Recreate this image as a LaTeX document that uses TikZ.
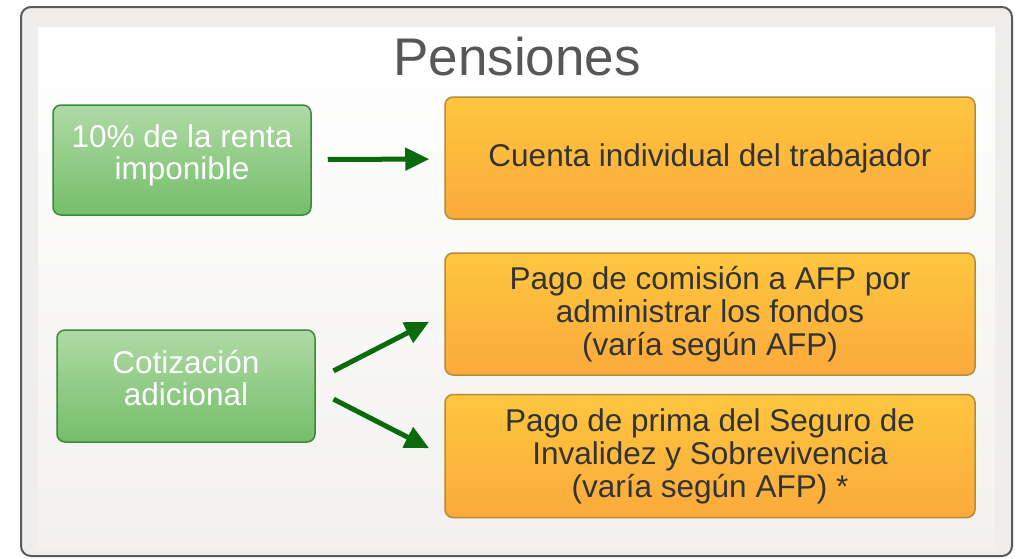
\documentclass[tikz,border=0pt]{standalone}
\usepackage{fontspec}
\setmainfont{Liberation Sans}
\usepackage{tikz}
\usetikzlibrary{arrows.meta}
\definecolor{framegray}{HTML}{5A5A5A}
\definecolor{outerfill}{HTML}{EFEEEC}
\definecolor{panelbot}{HTML}{F2F1EF}
\definecolor{titlegray}{HTML}{575757}
\definecolor{greenline}{HTML}{3A8A36}
\definecolor{greentop}{HTML}{B0DAA6}
\definecolor{greenbot}{HTML}{74BE69}
\definecolor{orangeline}{HTML}{B88A34}
\definecolor{orangetop}{HTML}{FEC63F}
\definecolor{orangebot}{HTML}{FBAA3B}
\definecolor{textgray}{HTML}{333333}
\definecolor{arrowgreen}{HTML}{0B6A0B}

\begin{document}
\begin{tikzpicture}[x=1pt,y=-1pt,
	greenbox/.style={draw=greenline,line width=1.5pt,rounded corners=8pt,top color=greentop,bottom color=greenbot,text=white,align=center,font=\fontsize{31.5}{32}\selectfont,text depth=16pt,minimum width=258pt,inner sep=0pt},
	orangebox/.style={draw=orangeline,line width=1.5pt,rounded corners=8pt,top color=orangetop,bottom color=orangebot,text=textgray,align=center,font=\fontsize{31.5}{33}\selectfont,minimum width=530pt,minimum height=122pt,inner sep=0pt},
	flow/.style={draw=arrowgreen,line width=5pt,-{Triangle[length=24pt,width=22pt]}}]
	\useasboundingbox (0,0) rectangle (1017,558);
	\draw[line width=2pt,draw=framegray,fill=outerfill,rounded corners=10pt] (21,7) rectangle (1012,556);
	\shade[top color=white,bottom color=panelbot] (38,27) rectangle (995,548);
	\node[text=titlegray,font=\fontsize{53}{60}\selectfont] (title) at (517,57) {Pensiones};
	\node[greenbox,minimum height=110pt] (renta) at (182,160) {10\% de la renta\\imponible};
	\node[greenbox,minimum height=112pt] (cotiz) at (186,386) {Cotización\\adicional};
	\node[orangebox] (cuenta) at (710,158) {Cuenta individual del trabajador};
	\node[orangebox] (comision) at (710,314) {Pago de comisión a AFP por\\administrar los fondos\\(varía según AFP)};
	\node[orangebox,minimum height=123pt] (prima) at (710,456) {Pago de prima del Seguro de\\Invalidez y Sobrevivencia\\(varía según AFP) *};
	\draw[flow,shorten <=16pt,shorten >=15pt] (renta) -- (cuenta);
	\draw[flow,shorten <=20pt,shorten >=17pt] ([yshift=6pt]cotiz.east) -- (comision.west);
	\draw[flow,shorten <=20pt,shorten >=17pt] ([yshift=-4pt]cotiz.east) -- (prima.west);
\end{tikzpicture}
\end{document}
